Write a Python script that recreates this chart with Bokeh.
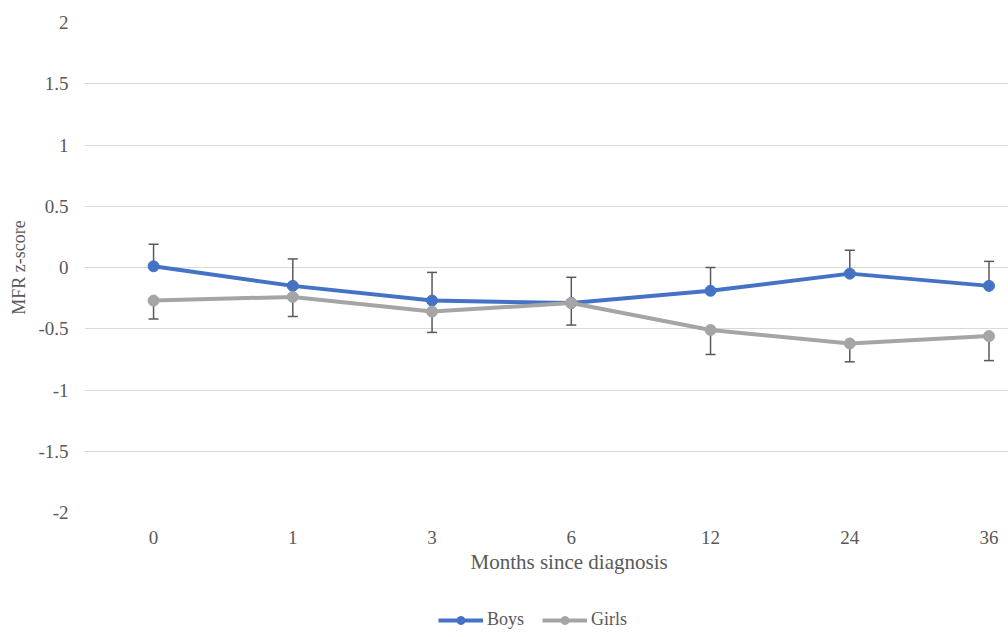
from bokeh.plotting import figure
from bokeh.layouts import column
from bokeh.models import (ColumnDataSource, FixedTicker, Whisker, TeeHead,
                          Legend, LegendItem, Title)
from bokeh.embed import file_html
from bokeh.resources import INLINE

# Months since diagnosis (category labels on the x axis)
months = ["0", "1", "3", "6", "12", "24", "36"]

# Mean MFR z-scores
boys = [0.01, -0.15, -0.27, -0.29, -0.19, -0.05, -0.15]
girls = [-0.27, -0.24, -0.36, -0.29, -0.51, -0.62, -0.56]

# Error bar ends (boys shown upward, girls downward)
boys_upper = [0.19, 0.07, -0.04, -0.08, 0.00, 0.14, 0.05]
girls_lower = [-0.42, -0.40, -0.53, -0.47, -0.71, -0.77, -0.76]

y_ticks = [-2, -1.5, -1, -0.5, 0, 0.5, 1, 1.5, 2]
y_tick_labels = ["-2", "-1.5", "-1", "-0.5", "0", "0.5", "1", "1.5", "2"]

series_names = ["Boys", "Girls"]

BLUE = "#4472C4"
GREY = "#A5A5A5"
TEXT = "#595959"
FONT = "Liberation Serif"

x = list(range(len(months)))
src_b = ColumnDataSource(dict(x=x, y=boys, top=boys_upper))
src_g = ColumnDataSource(dict(x=x, y=girls, bot=girls_lower))

p = figure(width=1008, height=590, output_backend="svg", toolbar_location=None,
           x_range=(-0.496, 6.14), y_range=(-2, 2),
           min_border_left=84, min_border_right=0, min_border_top=22,
           min_border_bottom=78)
p.outline_line_color = None
p.background_fill_color = "white"
p.border_fill_color = "white"

# Grid
p.xgrid.grid_line_color = None
p.ygrid.grid_line_color = "#D9D9D9"
p.ygrid.grid_line_width = 1

# Axes
p.yaxis.ticker = FixedTicker(ticks=y_ticks)
p.yaxis.major_label_overrides = {float(t): s for t, s in zip(y_ticks, y_tick_labels)}
p.xaxis.ticker = FixedTicker(ticks=x)
p.xaxis.major_label_overrides = {i: m for i, m in zip(x, months)}
for ax in (p.xaxis[0], p.yaxis[0]):
    ax.axis_line_color = None
    ax.major_tick_line_color = None
    ax.minor_tick_line_color = None
    ax.major_tick_out = 0
    ax.major_tick_in = 0
    ax.minor_tick_out = 0
    ax.minor_tick_in = 0
    ax.major_label_text_font = FONT
    ax.major_label_text_font_size = "19px"
    ax.major_label_text_color = TEXT
    ax.axis_label_text_font = FONT
    ax.axis_label_text_font_style = "normal"
    ax.axis_label_text_color = TEXT
p.xaxis.major_label_standoff = 18
p.yaxis.axis_label = "MFR z-score"
p.yaxis.axis_label_text_font_size = "18px"
p.yaxis.major_label_standoff = 16
p.yaxis.axis_label_standoff = 6

# x-axis title, centred on the full category band
p.add_layout(Title(text="Months since diagnosis", align="left", offset=386,
                   text_font=FONT, text_font_size="21px",
                   text_font_style="normal", text_color=TEXT, standoff=3),
             "below")

# Error bars
wb = Whisker(base="x", lower="y", upper="top", source=src_b,
             line_color=TEXT, line_width=1.5,
             upper_head=TeeHead(size=10, line_color=TEXT, line_width=1.5),
             lower_head=None)
wg = Whisker(base="x", lower="bot", upper="y", source=src_g,
             line_color=TEXT, line_width=1.5,
             lower_head=TeeHead(size=10, line_color=TEXT, line_width=1.5),
             upper_head=None)
p.add_layout(wb)
p.add_layout(wg)

# Series
p.line("x", "y", source=src_b, line_color=BLUE, line_width=4)
p.scatter("x", "y", source=src_b, size=11, fill_color=BLUE, line_color=BLUE)
p.line("x", "y", source=src_g, line_color=GREY, line_width=4)
p.scatter("x", "y", source=src_g, size=11, fill_color=GREY, line_color=GREY)

# Legend strip underneath the chart (its own glyphs sit outside the visible range)
leg = figure(width=1008, height=47, output_backend="svg", toolbar_location=None,
             x_axis_type=None, y_axis_type=None, x_range=(0, 1), y_range=(5, 6),
             min_border=0)
leg.outline_line_color = None
leg.xgrid.grid_line_color = None
leg.ygrid.grid_line_color = None
items = []
for name, src, color in zip(series_names, (src_b, src_g), (BLUE, GREY)):
    r_line = leg.line("x", "y", source=src, line_color=color, line_width=4)
    r_dot = leg.scatter("x", "y", source=src, size=11, fill_color=color, line_color=color)
    items.append(LegendItem(label=name, renderers=[r_line, r_dot]))

legend = Legend(items=items, orientation="horizontal", location=(354, 7),
                label_text_font=FONT, label_text_font_size="18px",
                label_text_color=TEXT, glyph_width=45, glyph_height=20,
                label_standoff=4, spacing=18, padding=0, margin=0,
                border_line_color=None, background_fill_alpha=0)
leg.add_layout(legend, "center")

open("out.html", "w").write(file_html(column(p, leg, spacing=0), INLINE))
